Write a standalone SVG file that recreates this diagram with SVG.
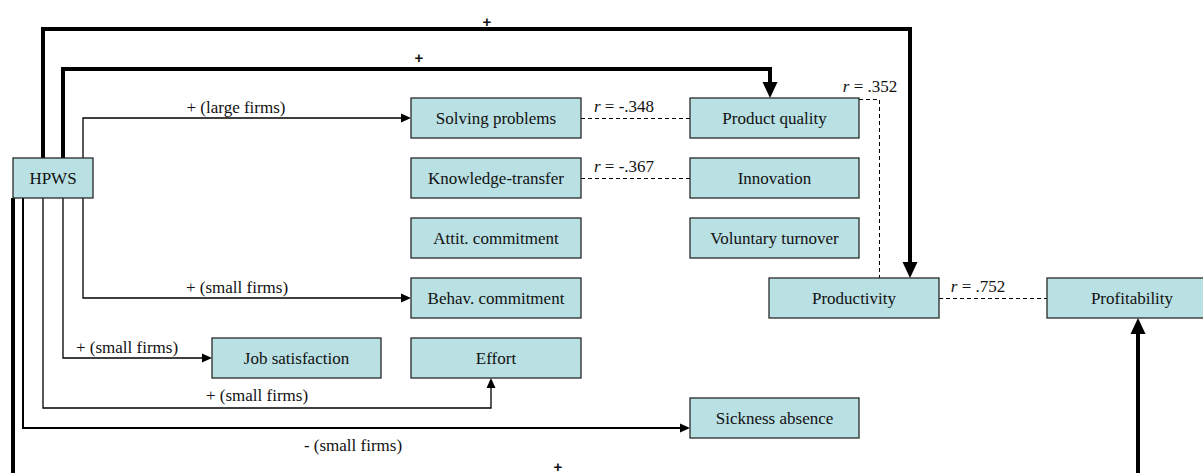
<svg xmlns="http://www.w3.org/2000/svg" width="1203" height="473" viewBox="0 0 1203 473">
<style>
.node rect{fill:#b9e0e3;stroke:#2a2a2a;stroke-width:1.3}
.node text{font-family:"Liberation Serif","Times New Roman",serif;font-size:17px;fill:#111;text-anchor:middle}
.lbl{font-family:"Liberation Serif","Times New Roman",serif;font-size:17px;fill:#111;text-anchor:middle}
.plus{font-family:"Liberation Sans",Arial,sans-serif;font-size:15px;font-weight:bold;fill:#111;text-anchor:middle}
.thick{fill:none;stroke:#000;stroke-width:4;stroke-linejoin:miter}
.thin{fill:none;stroke:#000;stroke-width:1.3;stroke-linejoin:miter}
.dash{fill:none;stroke:#000;stroke-width:1;stroke-dasharray:4 3}
</style>
<defs>
<marker id="ah" markerUnits="userSpaceOnUse" markerWidth="18" markerHeight="18" refX="0" refY="9" orient="auto" viewBox="0 0 18 18">
<path d="M0,1.5 L16,9 L0,16.5 z" fill="#000"/>
</marker>
<marker id="as" markerUnits="userSpaceOnUse" markerWidth="11" markerHeight="11" refX="0" refY="5.5" orient="auto" viewBox="0 0 11 11">
<path d="M0,1 L10,5.5 L0,10 z" fill="#000"/>
</marker>
</defs>
<rect width="1203" height="473" fill="#fff"/>
<g id="connectors">
<path class="thick" d="M43,158 V29 H910 V262" marker-end="url(#ah)"/>
<path class="thick" d="M63,158 V69 H770 V82" marker-end="url(#ah)"/>
<path class="thick" d="M13,198 V480"/>
<path class="thick" d="M1138,480 V334" marker-end="url(#ah)"/>
<path class="thin" d="M83,158 V118 H401" marker-end="url(#as)"/>
<path class="thin" d="M83,198 V298 H401" marker-end="url(#as)"/>
<path class="thin" d="M63,198 V358 H202" marker-end="url(#as)"/>
<path class="thin" d="M43,198 V408 H491 V388" marker-end="url(#as)"/>
<path class="thin" d="M23,198 V428 H680" style="stroke-width:2" marker-end="url(#as)"/>
<path class="dash" d="M581,118.5 H690"/>
<path class="dash" d="M581,178.5 H690"/>
<path class="dash" d="M859,99.5 H879.5 V278"/>
<path class="dash" d="M939,298.5 H1047"/>
<text class="plus" x="487" y="27">+</text>
<text class="plus" x="419" y="63">+</text>
<text class="plus" x="558" y="472">+</text>
<text class="lbl" x="236" y="113">+ (large firms)</text>
<text class="lbl" x="237" y="293">+ (small firms)</text>
<text class="lbl" x="127" y="353">+ (small firms)</text>
<text class="lbl" x="257" y="401">+ (small firms)</text>
<text class="lbl" x="353" y="451">- (small firms)</text>
<text class="lbl" x="624" y="112"><tspan font-style="italic">r</tspan> = -.348</text>
<text class="lbl" x="624" y="172"><tspan font-style="italic">r</tspan> = -.367</text>
<text class="lbl" x="870" y="92"><tspan font-style="italic">r</tspan> = .352</text>
<text class="lbl" x="978" y="292"><tspan font-style="italic">r</tspan> = .752</text>
</g>
<g id="hpws" class="node"><rect x="13" y="158" width="80" height="40"/><text x="53" y="184">HPWS</text></g>
<g id="solving" class="node"><rect x="411" y="98" width="170" height="40"/><text x="496" y="124">Solving problems</text></g>
<g id="knowledge" class="node"><rect x="411" y="158" width="170" height="40"/><text x="496" y="184">Knowledge-transfer</text></g>
<g id="attit" class="node"><rect x="411" y="218" width="170" height="40"/><text x="496" y="244">Attit. commitment</text></g>
<g id="behav" class="node"><rect x="411" y="278" width="170" height="40"/><text x="496" y="304">Behav. commitment</text></g>
<g id="effort" class="node"><rect x="411" y="338" width="170" height="40"/><text x="496" y="364">Effort</text></g>
<g id="jobsat" class="node"><rect x="212" y="338" width="169" height="40"/><text x="296.5" y="364">Job satisfaction</text></g>
<g id="quality" class="node"><rect x="690" y="98" width="169" height="40"/><text x="774.5" y="124">Product quality</text></g>
<g id="innovation" class="node"><rect x="690" y="158" width="169" height="40"/><text x="774.5" y="184">Innovation</text></g>
<g id="turnover" class="node"><rect x="690" y="218" width="169" height="40"/><text x="774.5" y="244">Voluntary turnover</text></g>
<g id="sickness" class="node"><rect x="690" y="398" width="169" height="40"/><text x="774.5" y="424">Sickness absence</text></g>
<g id="productivity" class="node"><rect x="769" y="278" width="170" height="40"/><text x="854" y="304">Productivity</text></g>
<g id="profitability" class="node"><rect x="1047" y="278" width="170" height="40"/><text x="1132" y="304">Profitability</text></g>
</svg>
